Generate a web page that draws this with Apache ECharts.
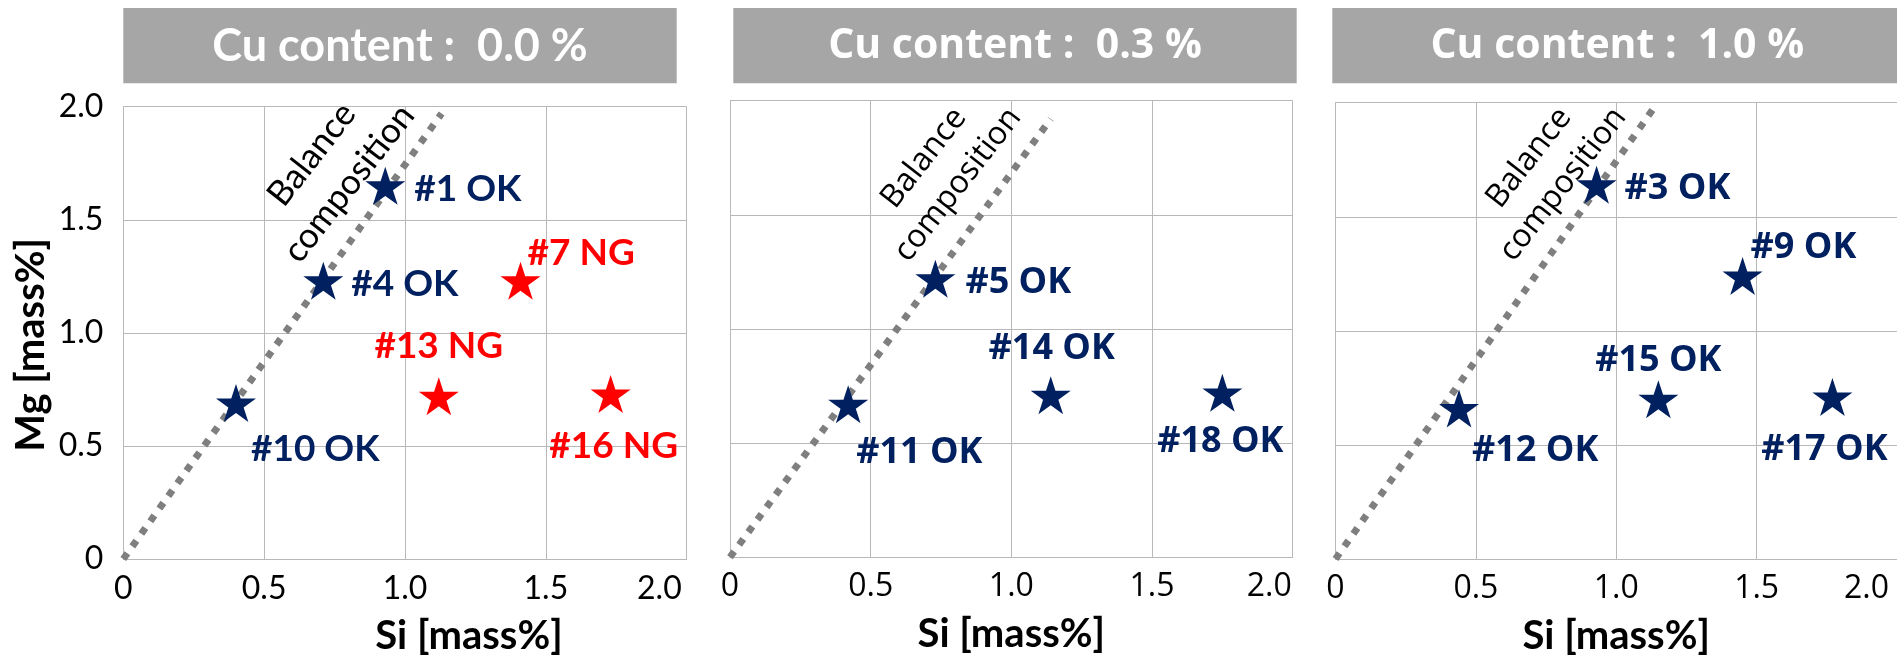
<!DOCTYPE html>
<html><head><meta charset="utf-8">
<script src="https://cdn.jsdelivr.net/npm/echarts@6/dist/echarts.min.js"></script>
<style>html,body{margin:0;padding:0;background:#fff}#c{width:1897px;height:661px}</style>
</head><body><div id="c"></div>
<script>
// ---------------- data ----------------
const panelTitles = ['Cu content :  0.0 %', 'Cu content :  0.3 %', 'Cu content :  1.0 %'];
const tickLabels = ['0', '0.5', '1.0', '1.5', '2.0'];
const xAxisName = 'Si [mass%]';
const yAxisName = 'Mg [mass%]';
const balanceText = 'Balance\ncomposition';

const cu00Ids = ['#1', '#4', '#7', '#10', '#13', '#16'];
const cu00Si = [0.93, 0.71, 1.41, 0.40, 1.12, 1.73];
const cu00Mg = [1.65, 1.23, 1.23, 0.69, 0.72, 0.73];
const cu00Result = ['OK', 'OK', 'NG', 'OK', 'NG', 'NG'];

const cu03Ids = ['#5', '#11', '#14', '#18'];
const cu03Si = [0.73, 0.42, 1.14, 1.75];
const cu03Mg = [1.22, 0.67, 0.71, 0.72];
const cu03Result = ['OK', 'OK', 'OK', 'OK'];

const cu10Ids = ['#3', '#9', '#12', '#15', '#17'];
const cu10Si = [0.93, 1.45, 0.44, 1.15, 1.77];
const cu10Mg = [1.64, 1.24, 0.66, 0.70, 0.71];
const cu10Result = ['OK', 'OK', 'OK', 'OK', 'OK'];

// balance composition line (start, end) per panel
const balanceSi = [[0, 1.13], [0, 1.14], [0, 1.13]];
const balanceMg = [[0, 1.97], [0, 1.92], [0, 1.97]];

// ---------------- layout / styles ----------------
const balanceTextAt = [[0.735, 1.725], [0.75, 1.69], [0.75, 1.70]];
const grids = [
  {left: 123.3, top: 106.7, width: 563.4, height: 455},
  {left: 730, top: 100.7, width: 562.7, height: 456.5},
  {left: 1335.5, top: 102.7, width: 562.5, height: 456.3}
];
const titleBoxes = [[123.3, 8, 553.4, 75.3], [733.3, 8, 563.4, 75.3], [1332.3, 8, 570, 75.3]];
const fam = ['Lato', 'Open Sans', 'Open Sans'];
const titleFont = ['bold 45px Lato', 'bold 41px "Open Sans"', 'bold 41px "Open Sans"'];
const markFont = [37, 36, 36];
const balFont = [35, 32, 32];
const maxLabelPad = [5, 1, 8];
const gridColor = '#B8B8B8';
const COLORS = {OK: '#002060', NG: '#FF0000'};
const STAR = 'path://M50,0L61.23,34.55L97.55,34.55L68.17,55.9L79.39,90.45L50,69.1L20.61,90.45L31.83,55.9L2.45,34.55L38.77,34.55Z';
const labelPlace = {
  '#1': {a: 'left', dx: 29, dy: 3}, '#4': {a: 'left', dx: 28, dy: 3}, '#7': {a: 'left', dx: 7, dy: -28},
  '#10': {a: 'left', dx: 15, dy: 46}, '#13': {a: 'center', dx: 0, dy: -50}, '#16': {a: 'center', dx: 3, dy: 52},
  '#5': {a: 'left', dx: 30, dy: 4}, '#11': {a: 'left', dx: 8, dy: 48}, '#14': {a: 'center', dx: 1, dy: -46},
  '#18': {a: 'center', dx: -2, dy: 49},
  '#3': {a: 'left', dx: 28, dy: 4}, '#9': {a: 'left', dx: 8, dy: -28}, '#12': {a: 'left', dx: 13, dy: 42},
  '#15': {a: 'center', dx: 0, dy: -39}, '#17': {a: 'center', dx: -8, dy: 53}
};

const panels = [
  {ids: cu00Ids, si: cu00Si, mg: cu00Mg, res: cu00Result},
  {ids: cu03Ids, si: cu03Si, mg: cu03Mg, res: cu03Result},
  {ids: cu10Ids, si: cu10Si, mg: cu10Mg, res: cu10Result}
];

function tickFmt(v) { return tickLabels[Math.round(v / 0.5)]; }

const xAxes = [], yAxes = [], series = [], graphic = [];
panels.forEach((p, i) => {
  const f = fam[i];
  xAxes.push({
    gridIndex: i, type: 'value', min: 0, max: 2, interval: 0.5,
    axisLine: {show: true, onZero: false, lineStyle: {color: gridColor, width: 1}},
    axisTick: {show: false},
    splitLine: {show: true, lineStyle: {color: gridColor, width: 1}},
    axisLabel: {
      color: '#000', fontFamily: f, fontSize: 32, margin: 14, alignMaxLabel: 'right',
      formatter: v => (v === 2 ? '{m|' + tickFmt(v) + '}' : tickFmt(v)),
      rich: {m: {padding: [0, maxLabelPad[i], 0, 0], fontFamily: f, fontSize: 32, color: '#000'}}
    },
    name: xAxisName, nameLocation: 'middle', nameGap: 57,
    nameTextStyle: {fontFamily: 'Lato', fontWeight: 'bold', fontSize: 40, color: '#000',
      padding: i === 0 ? [0, 0, 0, 128] : 0}
  });
  const y = {
    gridIndex: i, type: 'value', min: 0, max: 2, interval: 0.5,
    axisLine: {show: true, onZero: false, lineStyle: {color: gridColor, width: 1}},
    axisTick: {show: false},
    splitLine: {show: true, lineStyle: {color: gridColor, width: 1}},
    axisLabel: {show: i === 0, color: '#000', fontFamily: f, fontSize: 32, margin: 20, formatter: tickFmt}
  };
  if (i === 0) {
    y.name = yAxisName; y.nameLocation = 'middle'; y.nameGap = 72; y.nameRotate = 90;
    y.nameTextStyle = {fontFamily: 'Lato', fontWeight: 'bold', fontSize: 40, color: '#000', padding: [0, 24, 0, 0]};
  }
  yAxes.push(y);

  series.push({
    type: 'line', xAxisIndex: i, yAxisIndex: i, symbol: 'none', silent: true, z: 2,
    data: balanceSi[i].map((s, k) => [s, balanceMg[i][k]]),
    lineStyle: {color: '#7F7F7F', width: 7, type: [7, 8.5], cap: 'butt', opacity: 1}
  });
  series.push({
    type: 'scatter', xAxisIndex: i, yAxisIndex: i, symbol: 'rect', symbolSize: 1, silent: true, z: 4,
    itemStyle: {color: 'rgba(0,0,0,0)', opacity: 1},
    data: [{value: balanceTextAt[i], label: {
      show: true, position: 'inside', formatter: balanceText, rotate: 52, align: 'center', verticalAlign: 'middle',
      fontFamily: f, fontSize: balFont[i], lineHeight: balFont[i] * 1.35, color: '#000', opacity: 1}}]
  });
  series.push({
    type: 'scatter', xAxisIndex: i, yAxisIndex: i, symbol: STAR, symbolSize: [40, 38], z: 5,
    itemStyle: {opacity: 1},
    data: p.ids.map((id, k) => {
      const lp = labelPlace[id];
      return {
        value: [p.si[k], p.mg[k]], itemStyle: {color: COLORS[p.res[k]], opacity: 1},
        label: {show: true, position: 'inside', formatter: id + ' ' + p.res[k], align: lp.a, verticalAlign: 'middle',
          offset: [lp.dx, lp.dy], color: COLORS[p.res[k]], opacity: 1, fontFamily: f, fontWeight: 'bold', fontSize: markFont[i]}
      };
    })
  });

  const b = titleBoxes[i];
  graphic.push({type: 'rect', shape: {x: b[0], y: b[1], width: b[2], height: b[3]}, style: {fill: '#A6A6A6'}, z: 1});
  graphic.push({type: 'text', x: b[0] + b[2] / 2, y: b[1] + b[3] / 2 + 1,
    style: {text: panelTitles[i], fill: '#FFFFFF', font: titleFont[i], align: 'center', verticalAlign: 'middle'}, z: 2});
});

const chart = echarts.init(document.getElementById('c'), null, {renderer: 'canvas'});
chart.setOption({
  animation: false,
  backgroundColor: '#FFFFFF',
  grid: grids,
  xAxis: xAxes,
  yAxis: yAxes,
  series: series,
  graphic: graphic
});
</script>
</body></html>
